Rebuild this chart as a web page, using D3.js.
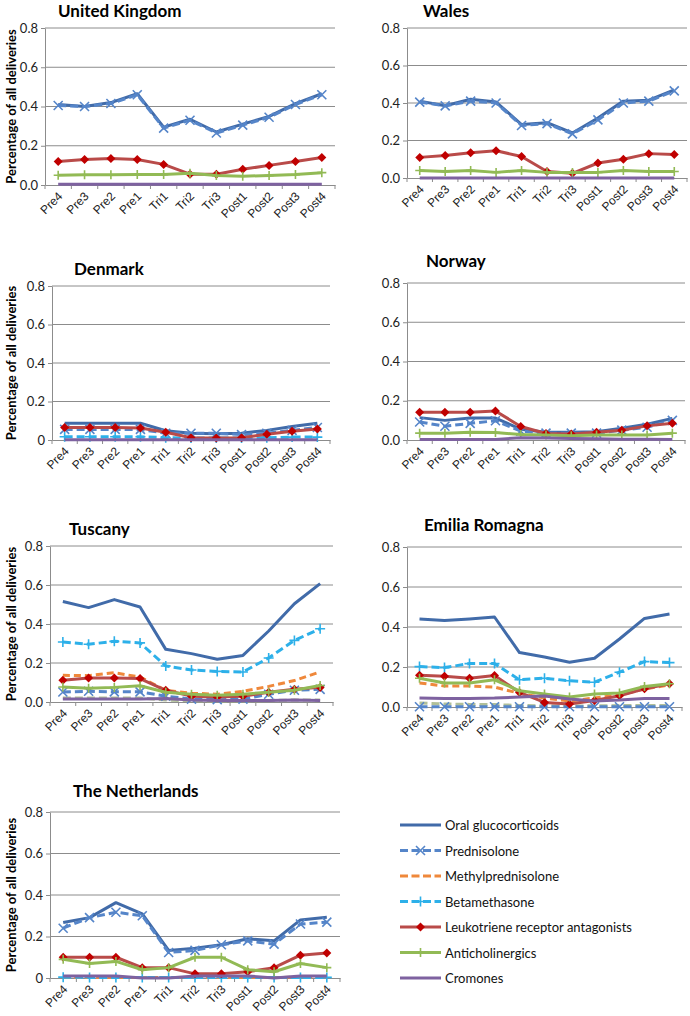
<!DOCTYPE html>
<html><head><meta charset="utf-8">
<script src="https://cdn.jsdelivr.net/npm/d3@7"></script>
<style>
body{margin:0;background:#fff;}
svg{display:block;font-family:Lato,"Open Sans",sans-serif;}
</style></head>
<body><svg id="c" width="690" height="1016"></svg>
<script>
const categories = ["Pre4","Pre3","Pre2","Pre1","Tri1","Tri2","Tri3","Post1","Post2","Post3","Post4"];
const seriesNames = ["Oral glucocorticoids","Prednisolone","Methylprednisolone","Betamethasone","Leukotriene receptor antagonists","Anticholinergics","Cromones"];
const regionNames = ["United Kingdom","Wales","Denmark","Norway","Tuscany","Emilia Romagna","The Netherlands"];
const yTicks = [0,0.2,0.4,0.6,0.8];

// order: Oral, Prednisolone, Methylpred, Betamethasone, LTRA, Anticholinergics, Cromones, (unlabelled grey-green dashed)
const ukValues = [
  [0.41,0.40,0.42,0.465,0.295,0.335,0.27,0.31,0.35,0.415,0.465],
  [0.405,0.40,0.415,0.46,0.29,0.33,0.265,0.305,0.345,0.41,0.46],
  null, null,
  [0.12,0.13,0.135,0.13,0.105,0.055,0.055,0.08,0.10,0.12,0.14],
  [0.05,0.052,0.052,0.053,0.053,0.06,0.048,0.045,0.048,0.053,0.063],
  [0.004,0.004,0.004,0.004,0.004,0.004,0.004,0.004,0.004,0.004,0.004],
  null
];
const walesValues = [
  [0.41,0.385,0.42,0.405,0.285,0.295,0.24,0.32,0.41,0.415,0.47],
  [0.405,0.385,0.41,0.40,0.28,0.29,0.235,0.31,0.40,0.41,0.465],
  null, null,
  [0.11,0.12,0.135,0.145,0.115,0.035,0.025,0.08,0.10,0.13,0.125],
  [0.04,0.035,0.04,0.03,0.04,0.03,0.03,0.03,0.04,0.035,0.035],
  [0,0,0,0,0,0,0,0,0,0,0],
  null
];
const denmarkValues = [
  [0.087,0.087,0.087,0.087,0.048,0.035,0.033,0.035,0.05,0.07,0.087],
  [0.055,0.055,0.055,0.055,0.035,0.035,0.035,0.028,0.035,0.05,0.065],
  null,
  [0.017,0.017,0.017,0.017,0.012,0.01,0.01,0.01,0.012,0.015,0.015],
  [0.065,0.065,0.065,0.062,0.04,0.012,0.01,0.012,0.03,0.045,0.057],
  null,
  [0.001,0.001,0.001,0.001,0.001,0.001,0.001,0.001,0.001,0.001,0.001],
  null
];
const norwayValues = [
  [0.114,0.10,0.112,0.112,0.055,0.04,0.04,0.042,0.06,0.08,0.11],
  [0.092,0.07,0.085,0.098,0.045,0.035,0.035,0.035,0.05,0.065,0.10],
  null, null,
  [0.142,0.142,0.142,0.148,0.069,0.033,0.03,0.04,0.05,0.072,0.085],
  [0.035,0.035,0.04,0.038,0.028,0.025,0.022,0.025,0.025,0.025,0.035],
  [0.003,0.003,0.003,0.003,0.012,0.01,0.008,0.006,0.004,0.004,0.003],
  null
];
const tuscanyValues = [
  [0.515,0.484,0.525,0.487,0.27,0.248,0.219,0.239,0.364,0.504,0.607],
  [0.051,0.055,0.052,0.052,0.03,0.015,0.012,0.015,0.04,0.06,0.065],
  [0.137,0.135,0.15,0.128,0.06,0.045,0.04,0.055,0.08,0.11,0.154],
  [0.308,0.296,0.311,0.303,0.185,0.164,0.157,0.154,0.226,0.316,0.376],
  [0.111,0.123,0.123,0.12,0.06,0.03,0.025,0.03,0.05,0.065,0.075],
  [0.077,0.07,0.075,0.083,0.05,0.04,0.035,0.04,0.05,0.06,0.085],
  [0.015,0.016,0.015,0.015,0.018,0.01,0.008,0.008,0.008,0.01,0.008],
  [0.02,0.02,0.02,0.02,0.01,0.006,0.005,0.006,0.008,0.01,0.01]
];
const emiliaValues = [
  [0.44,0.432,0.44,0.45,0.272,0.25,0.224,0.244,0.34,0.443,0.465],
  [0.001,0.001,0.001,0.001,0.001,0.001,0.001,0.001,0.001,0.001,0.001],
  [0.12,0.105,0.105,0.10,0.068,0.045,0.03,0.045,0.06,0.09,0.11],
  [0.202,0.197,0.217,0.217,0.136,0.144,0.131,0.124,0.174,0.227,0.222],
  [0.159,0.154,0.144,0.158,0.073,0.023,0.015,0.033,0.056,0.091,0.116],
  [0.144,0.12,0.12,0.136,0.081,0.065,0.05,0.065,0.07,0.103,0.116],
  [0.045,0.043,0.043,0.045,0.05,0.055,0.04,0.03,0.035,0.043,0.043],
  [0.02,0.015,0.013,0.012,0.008,0.006,0.005,0.006,0.007,0.008,0.008]
];
const netherlandsValues = [
  [0.267,0.291,0.363,0.309,0.133,0.144,0.16,0.189,0.179,0.28,0.293],
  [0.24,0.291,0.317,0.30,0.123,0.133,0.16,0.179,0.163,0.26,0.269],
  [0.003,0.002,0.002,0.002,0.002,0.002,0.002,0.002,0.002,0.004,0.003],
  [0.004,0.003,0.003,0.003,0.003,0.003,0.003,0.003,0.003,0.003,0.003],
  [0.10,0.10,0.10,0.05,0.05,0.02,0.02,0.03,0.05,0.11,0.12],
  [0.09,0.07,0.08,0.04,0.05,0.10,0.10,0.04,0.03,0.07,0.05],
  [0.01,0.01,0.01,0.0,0.0,0.01,0.01,0.01,0.0,0.01,0.01],
  null
];
const allValues = [ukValues,walesValues,denmarkValues,norwayValues,tuscanyValues,emiliaValues,netherlandsValues];

// styles
const styles = [
  {color:"#416BA9", dash:null, marker:null},
  {color:"#5585C9", dash:"8,4", marker:"x"},
  {color:"#EF883B", dash:"7,4", marker:null},
  {color:"#2DB0E9", dash:"8,4", marker:"plus"},
  {color:"#B94B49", dash:null, marker:"diamond", mcolor:"#C00000"},
  {color:"#92BA55", dash:null, marker:"plusSmall"},
  {color:"#7E62A0", dash:null, marker:null},
  {color:"#A3B586", dash:"8,4", marker:null}
];

// panel layout: axis x, right end, y of 0.8, y of 0, title position
const layout = [
  {ax:45, rx:335, top:28, bot:185, tx:58, ty:17, zero:"0.0", ytitle:true},
  {ax:407, rx:687, top:28, bot:178, tx:423, ty:17, zero:"0.0", ytitle:false},
  {ax:52, rx:330, top:286, bot:440, tx:74, ty:275, zero:"0", ytitle:true},
  {ax:407, rx:685, top:283, bot:440, tx:426, ty:267, zero:"0.0", ytitle:false},
  {ax:50, rx:333, top:546, bot:702, tx:69, ty:535, zero:"0.0", ytitle:true},
  {ax:407, rx:682, top:547, bot:707, tx:424, ty:531, zero:"0.0", ytitle:false},
  {ax:50, rx:340, top:812, bot:978, tx:73, ty:797, zero:"0", ytitle:true}
];

const svg = d3.select("#c");
const gridColor = "#8C8C8C";

function drawMarker(g, type, x, y, st){
  if(type==="x"){
    const s=4.5;
    g.append("path").attr("d",`M${x-s},${y-s}L${x+s},${y+s}M${x-s},${y+s}L${x+s},${y-s}`)
      .attr("stroke",st.color).attr("stroke-width",1.6).attr("fill","none");
  } else if(type==="plus" || type==="plusSmall"){
    const s = type==="plus"?5:4.5;
    g.append("path").attr("d",`M${x-s},${y}L${x+s},${y}M${x},${y-s}L${x},${y+s}`)
      .attr("stroke",st.color).attr("stroke-width",1.6).attr("fill","none");
  } else if(type==="diamond"){
    const s=4.5;
    g.append("path").attr("d",`M${x},${y-s}L${x+s},${y}L${x},${y+s}L${x-s},${y}Z`)
      .attr("fill",st.mcolor);
  }
}

layout.forEach((L,pi)=>{
  const g = svg.append("g");
  const x = d3.scaleBand().domain(categories).range([L.ax,L.rx]);
  const y = d3.scaleLinear().domain([0,0.8]).range([L.bot,L.top]);
  const fmt = v => v===0 ? L.zero : d3.format(".1f")(v);

  // gridlines
  g.selectAll(".grid").data(yTicks.filter(t=>t>0)).join("line")
    .attr("x1",L.ax).attr("x2",L.rx).attr("y1",d=>y(d)).attr("y2",d=>y(d))
    .attr("stroke",gridColor).attr("stroke-width",1);

  // y axis
  const ya = g.append("g").attr("transform",`translate(${L.ax},0)`)
    .call(d3.axisLeft(y).tickValues(yTicks).tickFormat(fmt).tickSize(4).tickSizeOuter(0));
  ya.select(".domain").attr("stroke",gridColor);
  ya.selectAll(".tick line").attr("stroke",gridColor);
  ya.selectAll(".tick text").attr("font-size",13).attr("fill","#222").attr("x",-7)
    .attr("font-family","Lato,sans-serif");

  // x axis
  const xa = g.append("g").attr("transform",`translate(0,${L.bot})`)
    .call(d3.axisBottom(x).tickSize(0).tickSizeOuter(0));
  xa.select(".domain").attr("stroke",gridColor);
  xa.selectAll(".tick text").attr("font-size",12).attr("fill","#222")
    .attr("text-anchor","end").attr("dy",0).attr("y",0)
    .attr("transform","translate(5,12) rotate(-45)");
  // boundary ticks
  const bounds = categories.map(c=>x(c)).concat([L.rx]);
  g.selectAll(".bt").data(bounds).join("line")
    .attr("x1",d=>d).attr("x2",d=>d).attr("y1",L.bot).attr("y2",L.bot+4)
    .attr("stroke",gridColor);

  // title
  g.append("text").attr("x",L.tx).attr("y",L.ty).text(regionNames[pi])
    .attr("font-size",17).attr("font-weight","bold").attr("fill","#000");

  if(L.ytitle){
    g.append("text").attr("transform",`translate(11,${(L.top+L.bot)/2}) rotate(-90)`)
      .attr("text-anchor","middle").attr("dominant-baseline","central")
      .attr("font-size",13).attr("font-weight","bold").attr("fill","#000")
      .text("Percentage of all deliveries");
  }

  const line = d3.line().x((d,i)=>x(categories[i])+x.bandwidth()/2).y(d=>y(d));
  const vals = allValues[pi];
  const order = [7,0,1,2,3,4,5,6];
  order.forEach(si=>{
    const v = vals[si];
    if(!v) return;
    const st = styles[si];
    g.append("path").attr("d",line(v)).attr("fill","none")
      .attr("stroke",st.color).attr("stroke-width",3)
      .attr("stroke-dasharray",st.dash)
      .attr("stroke-linejoin","round").attr("opacity",si===7?0.85:1);
    if(st.marker){
      v.forEach((d,i)=>drawMarker(g,st.marker,x(categories[i])+x.bandwidth()/2,y(d),st));
    }
  });
});

// legend
const lg = svg.append("g");
seriesNames.forEach((n,i)=>{
  const yy = 825 + i*25.5;
  const st = styles[i];
  lg.append("line").attr("x1",400).attr("x2",441).attr("y1",yy).attr("y2",yy)
    .attr("stroke",st.color).attr("stroke-width",3).attr("stroke-dasharray",st.dash ? "8,3.5":null);
  if(st.marker) drawMarker(lg,st.marker,420.5,yy,st);
  lg.append("text").attr("x",445).attr("y",yy).attr("dominant-baseline","central")
    .attr("font-size",13).attr("fill","#111").text(n);
});
</script></body></html>
